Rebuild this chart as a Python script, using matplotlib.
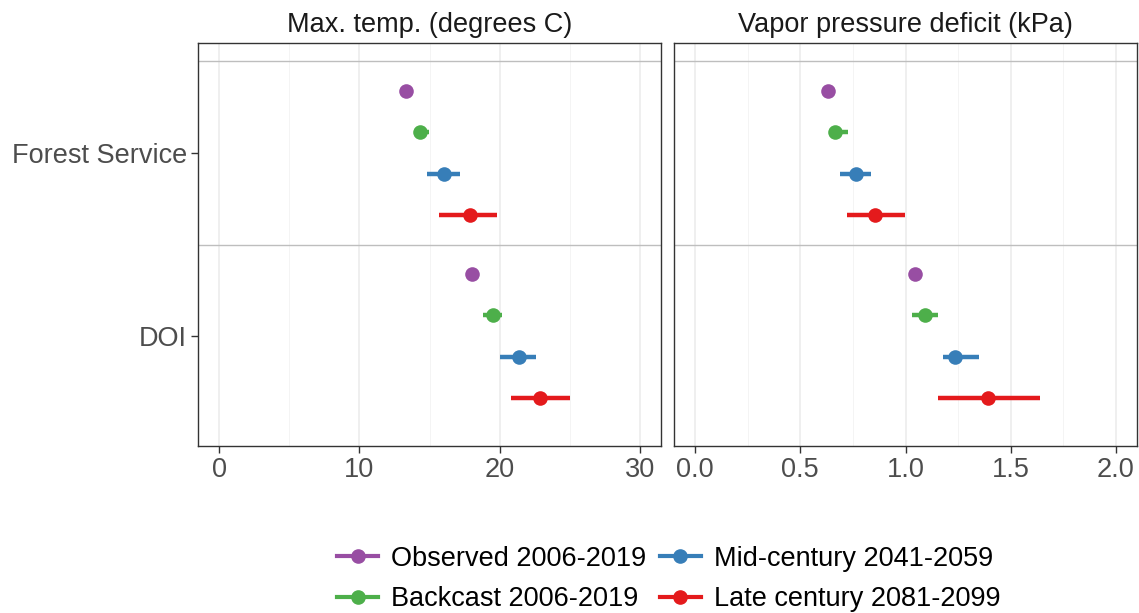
import numpy as np
import matplotlib.pyplot as plt
from matplotlib.lines import Line2D
from matplotlib.ticker import MultipleLocator

plt.rcParams['font.family'] = ['Liberation Sans', 'DejaVu Sans']

# dados
agencias = ["DOI", "Forest Service"]
periodos = ["Observed 2006-2019", "Backcast 2006-2019",
            "Mid-century 2041-2059", "Late century 2081-2099"]
cores = ["#984EA3", "#4DAF4A", "#377EB8", "#E41A1C"]

# temperatura máxima: [DOI, Forest Service] para cada período
tmax_med = [[18.0, 13.3], [19.5, 14.3], [21.4, 16.0], [22.9, 17.9]]
tmax_low = [[18.0, 13.3], [18.8, 14.0], [20.0, 14.8], [20.8, 15.7]]
tmax_high = [[18.0, 13.3], [20.2, 14.95], [22.6, 17.2], [25.0, 19.8]]

# déficit de pressão de vapor
vpd_med = [[1.045, 0.634], [1.095, 0.667], [1.235, 0.767], [1.39, 0.855]]
vpd_low = [[1.045, 0.634], [1.033, 0.635], [1.178, 0.691], [1.155, 0.72]]
vpd_high = [[1.045, 0.634], [1.153, 0.729], [1.35, 0.835], [1.64, 0.998]]

titulos = ["Max. temp. (degrees C)", "Vapor pressure deficit (kPa)"]

W, H = 1139, 613
fig = plt.figure(figsize=(W / 100, H / 100), dpi=100)

ax1 = fig.add_axes([198 / W, 1 - 446 / H, 463 / W, 403 / H])
ax2 = fig.add_axes([674 / W, 1 - 446 / H, 463 / W, 403 / H])

offsets = [-0.3375, -0.1125, 0.1125, 0.3375]
ypos = np.arange(1, len(agencias) + 1)

paineis = [
    (ax1, tmax_med, tmax_low, tmax_high, (0, 30), 10, 5, "{:.0f}"),
    (ax2, vpd_med, vpd_low, vpd_high, (0, 2), 0.5, 0.25, "{:.1f}"),
]

for k, (ax, med, low, high, lim, maj, mnr, fmt) in enumerate(paineis):
    for i, c in enumerate(cores):
        y = ypos - offsets[i]
        ax.hlines(y, low[i], high[i], color=c, linewidth=3.2, zorder=3)
        ax.plot(med[i], y, 'o', color=c, markersize=10.5,
                markeredgewidth=0, zorder=4)
    for yl in [1.5, 2.5]:
        ax.axhline(yl, color="#BEBEBE", linewidth=1, zorder=1)
    span = lim[1] - lim[0]
    ax.set_xlim(lim[0] - 0.05 * span, lim[1] + 0.05 * span)
    ax.set_ylim(0.4, 2.6)
    ax.xaxis.set_minor_locator(MultipleLocator(mnr))
    ticks = np.arange(lim[0], lim[1] + maj / 2, maj)
    ax.set_xticks(ticks)
    ax.set_xticklabels([fmt.format(t) for t in ticks])
    ax.grid(which="major", axis="x", color="#EBEBEB", linewidth=1.1, zorder=0)
    ax.grid(which="minor", axis="x", color="#F2F2F2", linewidth=0.6, zorder=0)
    ax.tick_params(axis="x", which="minor", length=0)
    ax.tick_params(axis="both", which="major", labelsize=19.5, colors="#333333",
                   labelcolor="#4D4D4D", length=5, width=1, pad=3)
    for s in ax.spines.values():
        s.set_color("#333333")
        s.set_linewidth(1)
    ax.set_title(titulos[k], fontsize=19.5, color="#1A1A1A", pad=8)
    ax.set_axisbelow(True)

ax1.set_yticks(ypos)
ax1.set_yticklabels(agencias)
ax2.set_yticks([])

handles = [Line2D([0], [0], color=c, linewidth=3, marker='o', markersize=9.5)
           for c in cores]
fig.legend(handles, periodos, loc="center", ncol=2, frameon=False,
           bbox_to_anchor=(669 / W, 1 - 579 / H), fontsize=19.5,
           handlelength=1.5, columnspacing=0.5, labelspacing=0.55,
           handletextpad=0.5)

fig.savefig("out.png", dpi=100)
